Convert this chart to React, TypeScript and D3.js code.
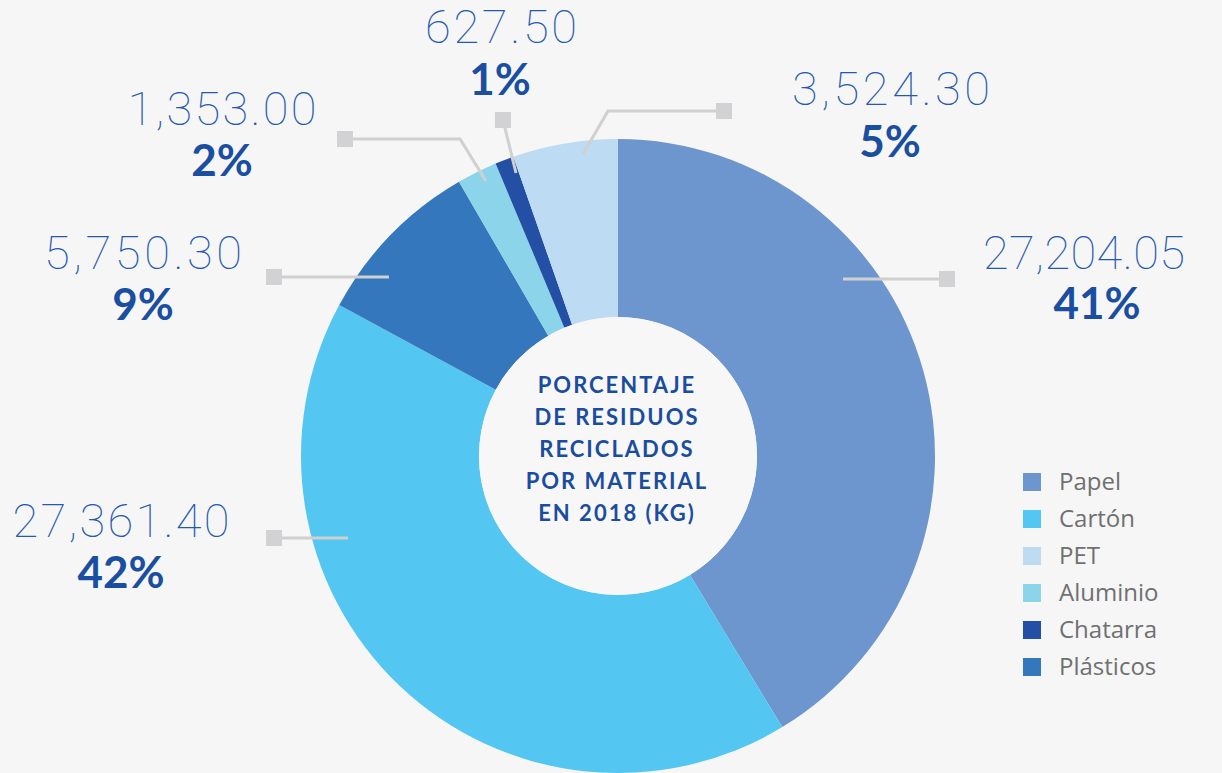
import React from "react";
import * as d3 from "d3";

const categories = ["Papel", "Cartón", "Plásticos", "Aluminio", "Chatarra", "PET"];
const values = [27204.05, 27361.4, 5750.3, 1353.0, 627.5, 3524.3];
const valueLabels = ["27,204.05", "27,361.40", "5,750.30", "1,353.00", "627.50", "3,524.30"];
const pctLabels = ["41%", "42%", "9%", "2%", "1%", "5%"];
const legendOrder = ["Papel", "Cartón", "PET", "Aluminio", "Chatarra", "Plásticos"];
const titleLines = ["PORCENTAJE", "DE RESIDUOS", "RECICLADOS", "POR MATERIAL", "EN 2018 (KG)"];

const colors: Record<string, string> = {
  Papel: "#6c96cd",
  "Cartón": "#53c6f1",
  PET: "#bddbf2",
  Aluminio: "#8bd4ea",
  Chatarra: "#2350a4",
  "Plásticos": "#3577bc",
};

// annotation layout (positions only)
const labelLayout: Record<string, { nx: number; ny: number; nw: number; px: number; py: number; line: [number, number][] }> = {
  Papel: { nx: 1084, ny: 269, nw: 202, px: 1097, py: 319, line: [[843, 279], [947, 279]] },
  PET: { nx: 891, ny: 105, nw: 198, px: 890, py: 157, line: [[583, 154], [608, 111], [724, 111]] },
  Chatarra: { nx: 501, ny: 43, nw: 152, px: 500, py: 95, line: [[516, 173], [503, 120]] },
  Aluminio: { nx: 222, ny: 125, nw: 189, px: 222, py: 176, line: [[486, 181], [460, 139], [345, 139]] },
  "Plásticos": { nx: 143, ny: 269, nw: 198, px: 143, py: 320, line: [[389, 277], [274, 277]] },
  "Cartón": { nx: 121, ny: 537, nw: 217, px: 121, py: 588, line: [[348, 538], [274, 538]] },
};

const W = 1222;
const H = 773;
const cx = 618;
const cy = 456;
const R = 317;
const r0 = 139;

export default function App() {
  const pie = d3.pie<number>().sort(null).value((d) => d);
  const arcs = pie(values);
  const arcGen = d3.arc<d3.PieArcDatum<number>>().innerRadius(r0).outerRadius(R);
  const line = d3.line<[number, number]>();
  const legendY = d3.scalePoint<string>().domain(legendOrder).range([482, 667]);

  return (
    <div style={{ position: "fixed", left: 0, top: 0, width: W, height: H, background: "#f6f6f6" }}>
      <svg width={W} height={H} style={{ display: "block" }}>
        <rect width={W} height={H} fill="#f6f6f6" />
        <g transform={`translate(${cx},${cy})`}>
          {arcs.map((a, i) => (
            <path key={i} d={arcGen(a) || ""} fill={colors[categories[i]]} />
          ))}
          <circle r={r0} fill="#f7f7f7" />
        </g>
        {categories.map((c, i) => {
          const L = labelLayout[c];
          const end = L.line[L.line.length - 1];
          return (
            <g key={c}>
              <path d={line(L.line) || ""} fill="none" stroke="#d0d0d0" strokeWidth={3} />
              <rect x={end[0] - 8} y={end[1] - 8} width={16} height={16} fill="#d2d2d4" />
              <text
                x={L.nx}
                y={L.ny}
                textAnchor="middle"
                fontFamily="Roboto, Lato, 'Open Sans', sans-serif"
                fontWeight={100}
                fontSize={47}
                fill="#2459b0"
                textLength={L.nw}
                lengthAdjust="spacing"
              >
                {valueLabels[i]}
              </text>
              <text
                x={L.px}
                y={L.py}
                textAnchor="middle"
                fontFamily="Lato, 'Open Sans', sans-serif"
                fontWeight={700}
                fontSize={44}
                fill="#1a4ea0"
              >
                {pctLabels[i]}
              </text>
            </g>
          );
        })}
        {titleLines.map((t, i) => (
          <text
            key={t}
            x={617}
            y={393 + i * 32}
            textAnchor="middle"
            fontFamily="Lato, 'Open Sans', sans-serif"
            fontWeight={700}
            fontSize={22}
            letterSpacing={2}
            fill="#1b4d9e"
          >
            {t}
          </text>
        ))}
        {legendOrder.map((c) => (
          <g key={c} transform={`translate(1023,${legendY(c)})`}>
            <rect x={0} y={-9} width={18} height={18} fill={colors[c]} />
            <text x={36} y={8} fontFamily="'Open Sans', sans-serif" fontSize={24} fill="#707070">
              {c}
            </text>
          </g>
        ))}
      </svg>
    </div>
  );
}
